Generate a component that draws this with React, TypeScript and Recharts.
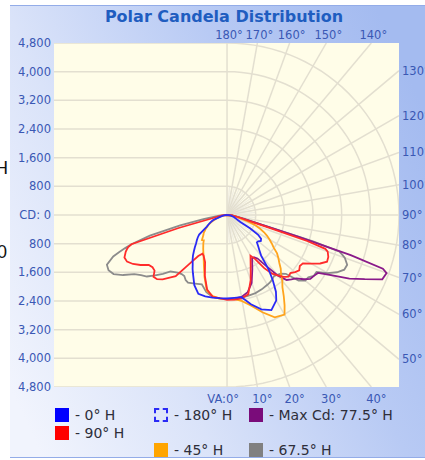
import { Scatter, ScatterChart, XAxis, YAxis } from 'recharts'

// vertical angles (deg from nadir) shared by every half plane
const vAngles = [0, 5, 10, 15, 20, 25, 30, 32.5, 35, 37.5, 40, 42.5, 45, 47.5, 50, 52.5, 55, 57.5, 60, 62.5, 65, 67.5, 70, 71, 72, 73, 75, 77.5, 80, 85, 90]

// candela per half plane (right side = plane, left side = opposite plane)
const cd0H = [2330, 2320, 2330, 2580, 2800, 2930, 2750, 2540, 2230, 1900, 1480, 1340, 1230, 1130, 1140, 1190, 1160, 1030, 740, 420, 330, 280, 240, 220, 210, 200, 180, 140, 110, 60, 0]
const cd180H = [2320, 2330, 2340, 2350, 2340, 2160, 1900, 1790, 1670, 1580, 1480, 1370, 1270, 1170, 1100, 1030, 950, 780, 650, 590, 530, 470, 410, 350, 290, 250, 200, 150, 110, 60, 0]
const cd45H = [2340, 2360, 2440, 2620, 2890, 3150, 3210, 2990, 2760, 2540, 2400, 2230, 2120, 1980, 1870, 1760, 1590, 1480, 1370, 1260, 1140, 1000, 840, 750, 670, 590, 420, 310, 220, 110, 0]
const cd225H = [2360, 2340, 2300, 2180, 1840, 1530, 1310, 1230, 1160, 1090, 1030, 960, 990, 920, 860, 820, 750, 700, 630, 570, 500, 430, 350, 320, 290, 270, 220, 180, 140, 70, 0]
const cd90H = [2370, 2370, 2360, 2290, 1930, 1560, 1310, 1450, 1810, 2060, 2200, 2340, 2430, 2400, 2480, 2540, 2480, 2510, 2710, 2930, 3080, 3060, 2990, 2900, 2370, 1260, 610, 390, 280, 140, 0]
const cd270H = [2340, 2330, 2320, 2150, 1810, 1450, 1310, 1280, 1400, 1700, 2230, 2370, 2540, 2650, 2680, 2550, 2540, 2590, 2790, 2960, 3080, 3100, 3010, 2960, 2900, 2790, 1400, 420, 280, 140, 0]
const cd67H = [2340, 2340, 2340, 2330, 2320, 2290, 2250, 2230, 2200, 2150, 2180, 2220, 2320, 2710, 2850, 2860, 2960, 2960, 3240, 3460, 3610, 3630, 3500, 3400, 3290, 2510, 840, 500, 330, 140, 0]
const cd247H = [2340, 2340, 2320, 2230, 2060, 2110, 2180, 2150, 2080, 2080, 2110, 2160, 2230, 2430, 2620, 2820, 2930, 3070, 3350, 3570, 3650, 3630, 3380, 3180, 2990, 2790, 2230, 1340, 670, 220, 0]
const cd77H = [2340, 2340, 2320, 2230, 2010, 1670, 1400, 1400, 1480, 1790, 2200, 2460, 2540, 2620, 2790, 2930, 2960, 3010, 3350, 3850, 4240, 4690, 4740, 4600, 3630, 2090, 840, 420, 280, 140, 0]

// axis / grid
const cdTicks = [-4800, -4000, -3200, -2400, -1600, -800, 0, 800, 1600, 2400, 3200, 4000, 4800]
const ringCd = [800, 1600, 2400, 3200, 4000, 4800]
const spokeAngles = [10, 20, 30, 40, 50, 60, 70, 80, 100, 110, 120, 130, 140, 150, 160, 170]
const bottomAngles = [0, 10, 20, 30, 40]
const bottomLabels = ['VA:0°', '10°', '20°', '30°', '40°']
const topAngles = [180, 170, 160, 150, 140]
const topLabels = ['180°', '170°', '160°', '150°', '140°']
const sideAngles = [130, 120, 110, 100, 90, 80, 70, 60, 50]
const sideLabels = ['130°', '120°', '110°', '100°', '90°', '80°', '70°', '60°', '50°']

const R = 4800
const X_MIN = -4830
const AXIS_BLUE = '#3a58b4'
const GRID = '#e3dfd0'
const FONT = '"DejaVu Sans", Verdana, sans-serif'

const rad = (d: number) => (d * Math.PI) / 180
const pt = (deg: number, cd: number, side: number) => ({
  x: side * cd * Math.sin(rad(deg)),
  y: -cd * Math.cos(rad(deg)),
})

function outline(right: number[], left?: number[]) {
  const pts: { x: number; y: number }[] = []
  if (left) {
    for (let i = vAngles.length - 1; i > 0; i--) pts.push(pt(vAngles[i], left[i], -1))
  }
  vAngles.forEach((a, i) => pts.push(pt(a, right[i], 1)))
  return pts
}

const series = [
  { name: '67.5° H', color: '#8c8c8c', data: outline(cd67H, cd247H) },
  { name: 'Max Cd: 77.5° H', color: '#8a1a8a', data: outline(cd77H) },
  { name: '45° H', color: '#ffa41c', data: outline(cd45H, cd225H) },
  { name: '90° H', color: '#ff2b2b', data: outline(cd90H, cd270H) },
  { name: '0° H', color: '#2a2af5', data: outline(cd0H, cd180H) },
]

// polar grid on the right half, flat lines on the left half
const arcs = ringCd.map((r) => {
  const pts = []
  for (let a = 0; a <= 180; a += 3) pts.push(pt(a, r, 1))
  return pts
})
const spokes = spokeAngles.map((a) => {
  const s = Math.abs(Math.sin(rad(a)))
  const c = Math.abs(Math.cos(rad(a)))
  return [pt(a, 0, 1), pt(a, R / Math.max(s, c), 1)]
})
// faint fan of short spokes round the centre
const fan: { x: number; y: number }[] = []
for (let a = 0; a <= 180; a += 5) {
  fan.push(pt(a, 0, 1), pt(a, ringCd[0], 1))
}
const flats = cdTicks.filter((v) => v !== 0).map((v) => [
  { x: X_MIN, y: v },
  { x: 0, y: v },
])
const crossV = [{ x: 0, y: -R }, { x: 0, y: R }]
const crossH = [{ x: X_MIN, y: 0 }, { x: R, y: 0 }]

const bottomTicks = bottomAngles.map((a) => R * Math.tan(rad(a)))
const topTicks = topAngles.map((a) => -R * Math.tan(rad(a)))
const sideTicks = sideAngles.map((a) => -R / Math.tan(rad(a)))

const noDot = () => <g />

const LeftTick = (p: any) => {
  const v = p.payload.value
  const label = Math.abs(v) < 1 ? 'CD: 0' : Math.abs(v).toLocaleString('en-US')
  return (
    <text x={p.x} y={p.y} dy={4} textAnchor="end" fill={AXIS_BLUE} fontSize={11.5} fontFamily={FONT}>
      {label}
    </text>
  )
}
const RightTick = (p: any) => (
  <text x={p.x} y={p.y} dy={4} textAnchor="start" fill={AXIS_BLUE} fontSize={11.5} fontFamily={FONT}>
    {sideLabels[p.index]}
  </text>
)
const BottomTick = (p: any) => (
  <text
    x={p.index === 0 ? p.x + 12 : p.x + 5}
    y={p.y}
    dy={16}
    textAnchor={p.index === 0 ? 'end' : 'middle'}
    fill={AXIS_BLUE}
    fontSize={11.5}
    fontFamily={FONT}
  >
    {bottomLabels[p.index]}
  </text>
)
const TopTick = (p: any) => (
  <text x={p.x + 2} y={p.y} dy={-4} textAnchor="middle" fill={AXIS_BLUE} fontSize={11.5} fontFamily={FONT}>
    {topLabels[p.index]}
  </text>
)

const legendItems = [
  { label: '- 0° H', color: '#0000ff', left: 55, top: 408 },
  { label: '- 90° H', color: '#ff0000', left: 55, top: 426 },
  { label: '- 180° H', color: 'dashed', left: 154, top: 408 },
  { label: '- Max Cd: 77.5° H', color: '#7a0c7a', left: 249, top: 408 },
  { label: '- 45° H', color: '#ffa500', left: 154, top: 443 },
  { label: '- 67.5° H', color: '#808080', left: 249, top: 443 },
]

export default function App() {
  return (
    <div style={{ position: 'absolute', left: 0, top: 0, width: 425, height: 460, overflow: 'hidden', background: '#fff', fontFamily: FONT }}>
      <div
        style={{
          position: 'absolute',
          left: 10,
          top: 5,
          width: 430,
          height: 451,
          borderTop: '1px solid #93ace8',
          borderBottom: '1px solid #93ace8',
          background: 'linear-gradient(65deg, #f1f4fd 5%, #dae3f9 32%, #b8caf4 62%, #a4bbf0 90%)',
        }}
      />
      <div style={{ position: 'absolute', left: 54, top: 43, width: 345, height: 344, background: '#fffde8' }} />
      <div
        style={{
          position: 'absolute',
          left: 0,
          top: 7,
          width: 448,
          textAlign: 'center',
          color: '#1f5dc0',
          fontWeight: 'bold',
          fontSize: 16,
        }}
      >
        Polar Candela Distribution
      </div>
      <div style={{ position: 'absolute', left: -5, top: 158, fontSize: 18, fontFamily: '"Liberation Sans", Arial, sans-serif', color: '#111' }}>H</div>
      <div style={{ position: 'absolute', left: -3, top: 242, fontSize: 18, fontFamily: '"Liberation Sans", Arial, sans-serif', color: '#111' }}>0</div>

      <div style={{ position: 'absolute', left: 0, top: 0 }}>
        <ScatterChart width={425} height={411} margin={{ top: 0, right: 0, bottom: 0, left: 0 }}>
          <XAxis xAxisId="b" type="number" dataKey="x" domain={[X_MIN, R]} allowDataOverflow ticks={bottomTicks} interval={0} tick={<BottomTick />} tickLine={false} axisLine={false} tickSize={0} tickMargin={0} height={24} />
          <XAxis xAxisId="t" orientation="top" type="number" dataKey="x" domain={[X_MIN, R]} allowDataOverflow ticks={topTicks} interval={0} tick={<TopTick />} tickLine={false} axisLine={false} tickSize={0} tickMargin={0} height={43} />
          <YAxis yAxisId="l" type="number" dataKey="y" domain={[-R, R]} allowDataOverflow ticks={cdTicks} interval={0} tick={<LeftTick />} tickLine={false} axisLine={false} tickSize={0} tickMargin={3} width={54} />
          <YAxis yAxisId="r" orientation="right" type="number" dataKey="y" domain={[-R, R]} allowDataOverflow ticks={sideTicks} interval={0} tick={<RightTick />} tickLine={false} axisLine={false} tickSize={0} tickMargin={3} width={26} />

          <Scatter xAxisId="b" yAxisId="l" data={fan} line={{ stroke: '#efece2', strokeWidth: 0.8 }} shape={noDot} isAnimationActive={false} />
          {flats.map((d, i) => (
            <Scatter key={`f${i}`} xAxisId="b" yAxisId="l" data={d} line={{ stroke: GRID, strokeWidth: 1.5 }} shape={noDot} isAnimationActive={false} />
          ))}
          {arcs.map((d, i) => (
            <Scatter key={`a${i}`} xAxisId="b" yAxisId="l" data={d} line={{ stroke: GRID, strokeWidth: 1.5 }} shape={noDot} isAnimationActive={false} />
          ))}
          {spokes.map((d, i) => (
            <Scatter key={`s${i}`} xAxisId="b" yAxisId="l" data={d} line={{ stroke: GRID, strokeWidth: 1.5 }} shape={noDot} isAnimationActive={false} />
          ))}
          <Scatter xAxisId="t" yAxisId="r" data={crossV} line={{ stroke: GRID, strokeWidth: 1.5 }} shape={noDot} isAnimationActive={false} />
          <Scatter xAxisId="t" yAxisId="r" data={crossH} line={{ stroke: GRID, strokeWidth: 1.5 }} shape={noDot} isAnimationActive={false} />

          {series.map((s) => (
            <Scatter key={s.name} name={s.name} xAxisId="b" yAxisId="l" data={s.data} line={{ stroke: s.color, strokeWidth: 1.8 }} shape={noDot} isAnimationActive={false} />
          ))}
        </ScatterChart>
      </div>

      {legendItems.map((it) => (
        <div key={it.label} style={{ position: 'absolute', left: it.left, top: it.top, display: 'flex', alignItems: 'center', height: 14 }}>
          {it.color === 'dashed' ? (
            <div style={{ width: 10, height: 10, border: '2px dashed #2a2af5' }} />
          ) : (
            <div style={{ width: 14, height: 14, background: it.color }} />
          )}
          <span style={{ marginLeft: 6, fontSize: 14, color: '#2e2e3a', whiteSpace: 'nowrap' }}>{it.label}</span>
        </div>
      ))}
    </div>
  )
}
